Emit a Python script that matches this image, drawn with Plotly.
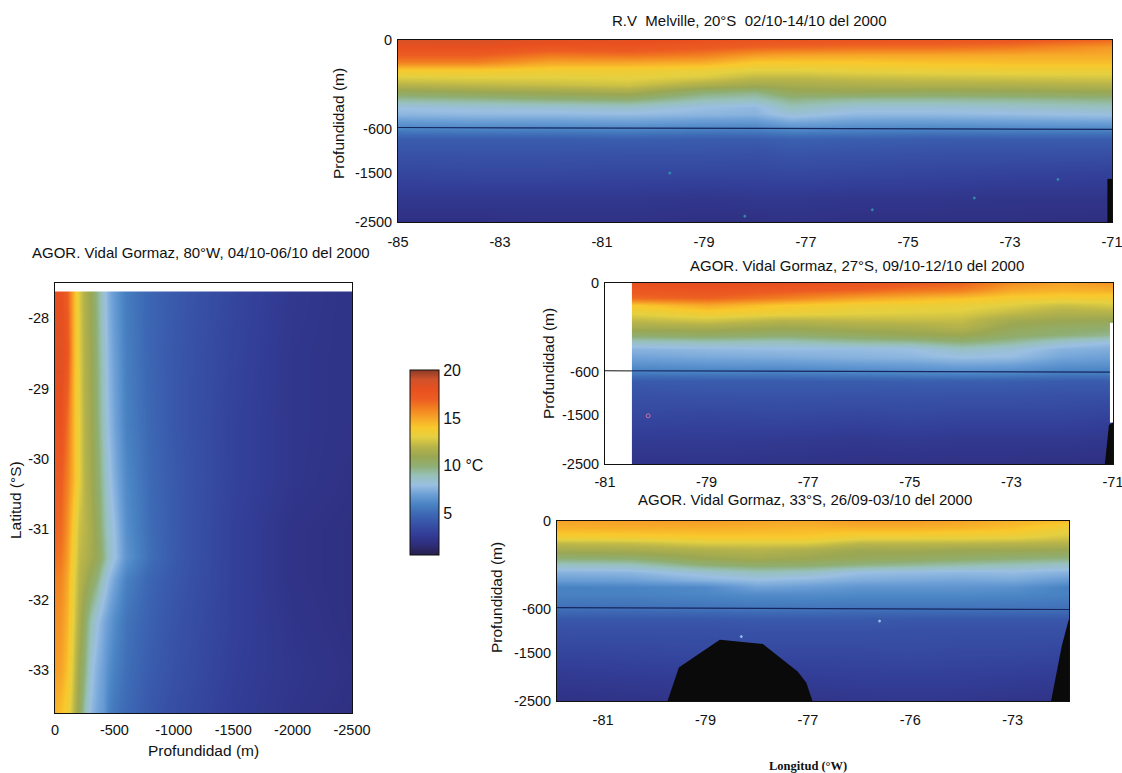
import numpy as np
import plotly.graph_objects as go

W, H = 1122, 773

DEPTHS = [0, 50, 100, 150, 200, 250, 300, 350, 400, 450, 500, 600, 800, 1000, 1500, 2000, 2500]

# ---- 20S section
TOP_LON = [-85, -83.5, -82, -80.5, -79, -78, -77.3, -76, -74.5, -73, -71]
TOP_T = [
    [18.6, 18.7, 18.3, 18.2, 17.8, 17.6, 17.5, 17.5, 17.4, 17.3, 16.6],
    [18.0, 18.0, 17.5, 17.6, 17.2, 16.8, 16.7, 16.5, 16.5, 16.2, 15.3],
    [17.0, 17.0, 16.2, 16.4, 16.0, 15.2, 15.0, 14.9, 14.9, 14.8, 14.8],
    [16.0, 16.0, 15.0, 15.0, 14.8, 14.0, 14.0, 14.0, 14.2, 14.3, 14.3],
    [13.9, 13.9, 13.6, 13.6, 13.3, 13.0, 13.0, 13.2, 13.3, 13.4, 13.4],
    [12.9, 13.0, 13.0, 13.1, 12.8, 12.2, 12.2, 12.4, 12.5, 12.6, 12.7],
    [11.9, 12.1, 12.3, 12.5, 11.6, 11.2, 11.4, 11.6, 11.7, 11.7, 11.9],
    [10.6, 10.9, 11.1, 11.4, 10.0, 9.7, 10.7, 10.8, 10.6, 10.7, 10.9],
    [9.4, 9.6, 9.9, 10.1, 9.1, 8.9, 9.7, 9.4, 9.4, 9.5, 9.7],
    [8.1, 8.3, 8.4, 8.6, 8.0, 7.8, 8.9, 8.3, 8.3, 8.5, 8.8],
    [7.7, 7.8, 7.8, 7.9, 7.7, 7.6, 8.3, 7.8, 7.8, 7.9, 8.1],
    [5.9, 6.0, 6.0, 6.1, 5.9, 5.9, 6.3, 6.1, 6.0, 6.1, 6.1],
    [4.4, 4.4, 4.4, 4.5, 4.4, 4.4, 4.6, 4.5, 4.4, 4.4, 4.4],
    [4.1, 4.1, 4.1, 4.1, 4.1, 4.0, 4.2, 4.1, 4.0, 4.0, 4.0],
    [3.3, 3.4, 3.4, 3.3, 3.3, 3.3, 3.4, 3.3, 3.2, 3.1, 3.0],
    [2.5, 2.5, 2.5, 2.5, 2.4, 2.5, 2.5, 2.4, 2.4, 2.3, 2.3],
    [2.0, 2.0, 2.1, 2.1, 2.0, 2.0, 2.1, 2.0, 2.0, 2.0, 1.9],
]
TOP_TICKS = [-85, -83, -81, -79, -77, -75, -73, -71]
TOP_FLOOR_LON = [-71.09, -71.09, -71.0, -71.0]
TOP_FLOOR_DEPTH = [2500, 1620, 1620, 2500]
TOP_LINE_DEPTH = [590, 608]
TOP_DOT_LON = [-79.67, -72.06, -73.7, -78.2, -75.7]
TOP_DOT_DEPTH = [1500, 1630, 2010, 2380, 2250]

# ---- 27S section
MID_LON = [-80.45, -79, -77.5, -76, -75, -74, -73, -72, -71]
MID_T = [
    [18.0, 18.2, 18.0, 17.6, 17.2, 16.8, 15.6, 15.0, 15.4],
    [17.4, 17.6, 17.2, 16.8, 16.3, 16.0, 14.9, 14.6, 14.7],
    [16.6, 16.8, 16.0, 15.0, 14.6, 14.2, 13.7, 13.6, 13.6],
    [14.0, 14.9, 14.0, 13.5, 13.4, 13.3, 12.9, 12.4, 12.7],
    [13.1, 13.6, 13.3, 13.0, 12.9, 12.8, 12.2, 11.7, 11.8],
    [12.2, 12.6, 12.0, 12.2, 12.3, 12.3, 11.3, 11.0, 10.9],
    [11.4, 11.5, 11.1, 11.4, 11.5, 11.9, 10.8, 10.4, 10.2],
    [10.2, 10.4, 10.1, 10.5, 10.8, 11.0, 10.3, 9.9, 9.5],
    [8.7, 8.9, 8.8, 9.3, 9.4, 9.9, 9.4, 8.5, 8.0],
    [7.6, 7.8, 7.9, 7.9, 8.0, 8.7, 8.3, 7.6, 7.4],
    [7.1, 7.3, 7.4, 7.6, 7.7, 8.0, 7.9, 7.2, 7.0],
    [5.8, 5.9, 5.9, 6.1, 6.2, 6.3, 6.2, 5.9, 5.9],
    [4.3, 4.4, 4.4, 4.4, 4.5, 4.5, 4.5, 4.4, 4.4],
    [4.0, 4.1, 4.1, 4.1, 4.1, 4.1, 4.1, 4.0, 4.0],
    [3.4, 3.3, 3.4, 3.3, 3.4, 3.3, 3.3, 3.3, 3.1],
    [2.7, 2.7, 2.6, 2.5, 2.6, 2.5, 2.5, 2.5, 2.4],
    [2.2, 2.3, 2.2, 2.1, 2.1, 2.1, 2.1, 2.0, 2.0],
]
MID_TICKS = [-81, -79, -77, -75, -73, -71]
MID_FLOOR_LON = [-71.16, -71.08, -71.0, -71.0]
MID_FLOOR_DEPTH = [2500, 1700, 1650, 2500]
MID_GAP_LON = [-71.06, -71.06, -71.0, -71.0]
MID_GAP_DEPTH = [1650, 270, 270, 1650]
MID_BLANK_LON = [-81.0, -81.0, -80.47, -80.47]
MID_BLANK_DEPTH = [2500, 0, 0, 2500]
MID_LINE_DEPTH = [595, 612]
MID_DOT_LON = [-80.15]
MID_DOT_DEPTH = [1510]

# ---- 33S section
LOW_LON = [-81.9, -80.5, -79, -78, -77, -76, -75, -74, -73, -71.9]
LOW_T = [
    [15.0, 15.1, 15.2, 15.0, 14.9, 15.2, 15.2, 15.0, 14.6, 14.3],
    [14.6, 14.7, 14.7, 14.6, 14.5, 14.6, 14.6, 14.5, 14.2, 13.3],
    [13.7, 13.8, 14.0, 14.0, 14.0, 13.5, 13.5, 13.4, 13.3, 12.7],
    [12.2, 12.3, 12.8, 12.8, 12.8, 12.1, 12.1, 12.1, 12.0, 11.9],
    [11.3, 11.4, 11.7, 11.9, 11.6, 11.1, 11.2, 11.0, 11.0, 10.9],
    [10.0, 10.1, 11.0, 11.3, 11.0, 10.7, 10.5, 10.3, 10.0, 9.8],
    [8.7, 8.8, 9.9, 10.2, 10.1, 9.7, 9.4, 9.1, 8.9, 8.6],
    [7.6, 7.7, 8.4, 8.9, 8.7, 8.0, 7.9, 7.8, 7.9, 7.6],
    [6.9, 7.0, 7.6, 7.9, 7.7, 7.4, 7.3, 7.2, 7.3, 6.8],
    [5.9, 6.0, 6.2, 7.1, 6.9, 6.6, 6.6, 6.6, 6.5, 5.9],
    [5.9, 5.9, 6.1, 6.3, 6.3, 6.2, 6.2, 6.2, 6.1, 5.9],
    [5.2, 5.2, 5.3, 5.4, 5.4, 5.3, 5.3, 5.3, 5.3, 5.2],
    [4.2, 4.2, 4.2, 4.3, 4.3, 4.3, 4.2, 4.2, 4.2, 4.2],
    [3.9, 3.9, 3.9, 4.0, 4.0, 4.0, 3.9, 3.9, 3.9, 3.9],
    [3.2, 3.3, 3.4, 3.4, 3.4, 3.4, 3.5, 3.4, 3.4, 3.3],
    [2.6, 2.7, 2.8, 2.8, 2.8, 2.9, 2.9, 2.9, 2.8, 2.7],
    [2.1, 2.2, 2.3, 2.3, 2.3, 2.4, 2.5, 2.4, 2.3, 2.2],
]
LOW_TICKS = [-81, -79, -77, -75, -73]
LOW_TICK_TEXT = ["-81", "-79", "-77", "-76", "-73"]
RIDGE_LON = [-79.74, -79.52, -78.72, -78.28, -77.88, -77.2, -77.03, -76.91]
RIDGE_DEPTH = [2500, 1807, 1235, 1278, 1320, 1892, 2125, 2500]
SLOPE_LON = [-72.25, -72.16, -72.04, -71.9, -71.9]
SLOPE_DEPTH = [2500, 2000, 1360, 800, 2500]
LOW_LINE_DEPTH = [590, 610]
LOW_DOT_LON = [-78.3, -75.6]
LOW_DOT_DEPTH = [1170, 850]

# ---- 80W section (latitude against depth)
LAT = [-27.62, -28.5, -29.5, -30.3, -31, -31.4, -31.7, -32.3, -33, -33.6]
LAT_DEPTHS = [0, -50, -100, -150, -200, -250, -300, -350, -400, -450, -500, -600, -800, -1000, -1500, -2000, -2500]
LAT_T = [
    [18.0, 18.0, 17.0, 14.8, 12.8, 11.6, 10.9, 9.6, 8.5, 7.5, 6.8, 5.7, 4.8, 4.3, 3.3, 2.5, 2.2],
    [18.4, 18.4, 17.5, 14.8, 12.9, 11.7, 11.0, 9.8, 8.7, 7.7, 7.0, 5.8, 4.8, 4.2, 3.2, 2.4, 2.2],
    [17.8, 17.8, 16.5, 14.6, 13.0, 11.8, 11.1, 10.0, 8.9, 7.9, 7.2, 5.9, 4.9, 4.2, 3.1, 2.4, 2.2],
    [17.0, 17.0, 16.0, 14.6, 13.0, 11.9, 11.2, 10.3, 9.2, 8.3, 7.5, 6.2, 5.0, 4.3, 3.1, 2.4, 2.1],
    [16.8, 16.6, 15.5, 13.8, 12.4, 12.0, 11.4, 10.6, 9.5, 8.6, 8.0, 6.4, 5.1, 4.3, 3.0, 2.2, 2.0],
    [16.5, 16.2, 15.2, 13.5, 12.2, 11.8, 11.3, 10.8, 9.8, 8.8, 8.1, 6.6, 5.2, 4.3, 3.0, 2.2, 2.0],
    [16.0, 15.8, 14.9, 13.2, 12.0, 11.3, 10.6, 9.8, 8.7, 7.9, 7.2, 5.9, 4.8, 4.2, 3.0, 2.2, 2.0],
    [15.6, 15.4, 14.6, 13.0, 11.6, 10.2, 9.0, 8.1, 7.4, 6.9, 6.3, 5.4, 4.6, 4.0, 3.0, 2.3, 2.0],
    [15.2, 15.0, 14.2, 12.6, 11.0, 9.7, 8.2, 7.5, 7.0, 6.4, 5.9, 5.2, 4.4, 3.9, 2.9, 2.4, 2.1],
    [14.6, 14.2, 13.6, 12.2, 10.6, 9.0, 7.8, 7.2, 6.8, 6.0, 5.5, 5.0, 4.2, 3.7, 2.8, 2.3, 2.0],
]
LAT_TICKS = [-28, -29, -30, -31, -32, -33]
DEPTH_TICKS = [0, -500, -1000, -1500, -2000, -2500]
LAT_BLANK_DEPTH = [0, 0, -2500, -2500]
LAT_BLANK_LAT = [-27.62, -27.5, -27.5, -27.62]

# ---- shared temperature scale
T_MIN, T_MAX = 0.7, 20
T_STOPS = [0.7, 2, 3, 4, 5, 6, 7, 8, 9, 10, 11, 12, 13, 14, 15, 16, 17, 18, 19, 20]
T_COLORS = ["#27204c", "#2f3082", "#33409a", "#3853a8", "#3d69b4", "#4a84c4", "#6c9fd6",
            "#9abfe2", "#97c0b8", "#8fae72", "#9ba752", "#b8b44a", "#e4d040", "#f9c82c",
            "#f6a428", "#f28020", "#ec5c22", "#e8501f", "#d0522a", "#8c3a28"]
T_TICKS = [5, 10, 15, 20]
T_TICK_TEXT = ["5", "10 °C", "15", "20"]
SECTION_TICKS = [0, 600, 1500, 2500]
SECTION_TICK_TEXT = ["0", "-600", "-1500", "-2500"]

FONT = "Liberation Sans"
INK = "#111111"
DEEP_RATIO = 0.33  # the sections compress everything below 600 m


def axis_depth(d):
    d = np.asarray(d, dtype=float)
    return -np.where(d <= 600, d, 600 + (d - 600) * DEEP_RATIO)


def dom_x(a, b):
    return [a / W, b / W]


def dom_y(top, bottom):
    return [1 - bottom / H, 1 - top / H]


scale = [[(s - T_MIN) / (T_MAX - T_MIN), c] for s, c in zip(T_STOPS, T_COLORS)]
fig = go.Figure()


def add_section(ax, lon, temp, xrange_, line_depth):
    fig.add_trace(go.Heatmap(x=lon, y=axis_depth(DEPTHS).tolist(), z=temp, coloraxis="coloraxis",
                             zsmooth="best", xaxis=f"x{ax}", yaxis=f"y{ax}", hoverinfo="skip"))
    fig.add_trace(go.Scatter(x=xrange_, y=axis_depth(line_depth).tolist(), mode="lines",
                             line=dict(color="#16265f", width=1.2), xaxis=f"x{ax}", yaxis=f"y{ax}",
                             showlegend=False, hoverinfo="skip"))


def add_fill(ax, lon, depth, color):
    fig.add_trace(go.Scatter(x=lon, y=axis_depth(depth).tolist(), mode="lines", fill="toself",
                             fillcolor=color, line=dict(color=color, width=0), xaxis=f"x{ax}", yaxis=f"y{ax}",
                             showlegend=False, hoverinfo="skip"))


def add_dots(ax, lon, depth, color, size, symbol="circle"):
    fig.add_trace(go.Scatter(x=lon, y=axis_depth(depth).tolist(), mode="markers",
                             marker=dict(color=color, size=size, symbol=symbol, line=dict(color=color, width=1)),
                             xaxis=f"x{ax}", yaxis=f"y{ax}", showlegend=False, hoverinfo="skip"))


add_section("", TOP_LON, TOP_T, [-85, -71], TOP_LINE_DEPTH)
add_fill("", TOP_FLOOR_LON, TOP_FLOOR_DEPTH, "#0a0a0a")
add_dots("", TOP_DOT_LON, TOP_DOT_DEPTH, "#2f8fa8", 2)

add_section("2", MID_LON, MID_T, [-81, -71], MID_LINE_DEPTH)
add_fill("2", MID_BLANK_LON, MID_BLANK_DEPTH, "#ffffff")
add_fill("2", MID_GAP_LON, MID_GAP_DEPTH, "#ffffff")
add_fill("2", MID_FLOOR_LON, MID_FLOOR_DEPTH, "#0a0a0a")
add_dots("2", MID_DOT_LON, MID_DOT_DEPTH, "#d070a0", 4, "circle-open")
# the -600 tick stub crosses the blank margin of this panel
fig.add_trace(go.Scatter(x=[-81, -80.47], y=axis_depth([595, 596]).tolist(), mode="lines",
                         line=dict(color="#111111", width=1), xaxis="x2", yaxis="y2",
                         showlegend=False, hoverinfo="skip"))

add_section("3", LOW_LON, LOW_T, [-81.9, -71.9], LOW_LINE_DEPTH)
add_fill("3", RIDGE_LON, RIDGE_DEPTH, "#0a0a0a")
add_fill("3", SLOPE_LON, SLOPE_DEPTH, "#0a0a0a")
add_dots("3", LOW_DOT_LON, LOW_DOT_DEPTH, "#8fc4ee", 2)

fig.add_trace(go.Heatmap(x=LAT_DEPTHS, y=LAT, z=LAT_T, coloraxis="coloraxis", zsmooth="best",
                         xaxis="x4", yaxis="y4", hoverinfo="skip"))
fig.add_trace(go.Scatter(x=LAT_BLANK_DEPTH, y=LAT_BLANK_LAT, mode="lines", fill="toself", fillcolor="#ffffff",
                         line=dict(color="#ffffff", width=0), xaxis="x4", yaxis="y4",
                         showlegend=False, hoverinfo="skip"))

tick_font = dict(family=FONT, size=14.5, color=INK)
line = dict(showline=True, linecolor="#111111", linewidth=1, mirror=True, showgrid=False, zeroline=False,
            tickfont=tick_font, layer="above traces", ticklabeloverflow="allow")


def section_axes(name, x_px, y_px, xr, ticks, text, standoff):
    return {
        f"xaxis{name}": dict(domain=dom_x(*x_px), range=xr, anchor=f"y{name}", tickvals=ticks, ticktext=text,
                             ticks="", ticklabelstandoff=standoff, **line),
        f"yaxis{name}": dict(domain=dom_y(*y_px), range=[float(axis_depth(2500)), 0], anchor=f"x{name}",
                             tickvals=axis_depth(SECTION_TICKS).tolist(), ticktext=SECTION_TICK_TEXT,
                             ticks="", ticklabelstandoff=2, **line),
    }


layout = dict(
    width=W, height=H, margin=dict(l=0, r=0, t=0, b=0, autoexpand=False), paper_bgcolor="white", plot_bgcolor="white",
    showlegend=False, font=dict(family=FONT, color=INK),
    coloraxis=dict(cmin=T_MIN, cmax=T_MAX, colorscale=scale, colorbar=dict(
        x=410 / W, xanchor="left", y=1 - 370 / H, yanchor="top", lenmode="fraction", len=185 / H,
        thicknessmode="pixels", thickness=29, xpad=0, ypad=0, outlinecolor="#111111", outlinewidth=1,
        tickvals=T_TICKS, ticktext=T_TICK_TEXT, ticks="", tickfont=dict(family=FONT, size=16, color=INK))),
)
layout.update(section_axes("", (398, 1112), (40, 222), [-85, -71], TOP_TICKS, [str(v) for v in TOP_TICKS], 7))
layout.update(section_axes("2", (605, 1113), (283, 464), [-81, -71], MID_TICKS, [str(v) for v in MID_TICKS], 5))
layout.update(section_axes("3", (557, 1069), (521, 701), [-81.9, -71.9], LOW_TICKS, LOW_TICK_TEXT, 6))
layout["xaxis4"] = dict(domain=dom_x(55, 352), range=[0, -2500], anchor="y4", tickvals=DEPTH_TICKS,
                        ticktext=[str(v) for v in DEPTH_TICKS], ticks="", ticklabelstandoff=4, **line)
layout["yaxis4"] = dict(domain=dom_y(283, 713), range=[-33.61, -27.5], anchor="x4", tickvals=LAT_TICKS,
                        ticktext=[str(v) for v in LAT_TICKS], ticks="", ticklabelstandoff=2, **line)


def note(text, x, y, size=15, angle=0, family=FONT, color=INK):
    return dict(text=text, x=x / W, y=1 - y / H, xref="paper", yref="paper", showarrow=False,
                xanchor="center", yanchor="middle", textangle=angle, font=dict(family=family, size=size, color=color))


layout["annotations"] = [
    note("R.V  Melville, 20°S  02/10-14/10 del 2000", 749, 20),
    note("AGOR. Vidal Gormaz, 80°W, 04/10-06/10 del 2000", 201, 253),
    note("AGOR. Vidal Gormaz, 27°S, 09/10-12/10 del 2000", 857, 266),
    note("AGOR. Vidal Gormaz, 33°S, 26/09-03/10 del 2000", 805, 500),
    note("Profundidad (m)", 338, 124, 15.5, -90),
    note("Profundidad (m)", 548, 364, 15.5, -90),
    note("Profundidad (m)", 496, 598, 15.5, -90),
    note("Latitud (°S)", 16, 500, 15.5, -90),
    note("Profundidad (m)", 203, 750, 15.5),
    note("<b>Longitud (°W)</b>", 808, 766, 12.5, 0, "Liberation Serif"),
]
fig.update_layout(**layout)
fig.write_html("out.html", post_script="document.body.style.margin='0';", config=dict(displayModeBar=False))
